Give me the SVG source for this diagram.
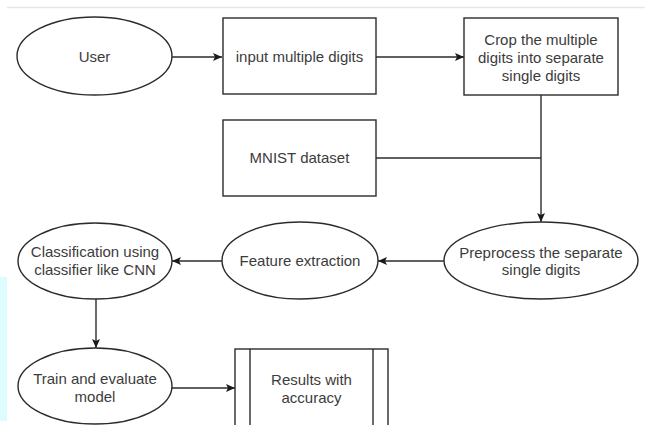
<svg xmlns="http://www.w3.org/2000/svg" width="645" height="425" viewBox="0 0 645 425">
  <style>
    .shape { fill: #ffffff; stroke: #2b2b2b; stroke-width: 1.4; }
    .edge { fill: none; stroke: #2b2b2b; stroke-width: 1.4; }
    .label { font-family: "Liberation Sans", Arial, sans-serif; font-size: 15px; fill: #3c3c3c; text-anchor: middle; }
  </style>
  <defs>
    <marker id="arrow" viewBox="0 0 9 8" refX="9" refY="4" markerWidth="9" markerHeight="8" markerUnits="userSpaceOnUse" orient="auto">
      <path d="M0,0 L9,4 L0,8 L2,4 z" fill="#1a1a1a"/>
    </marker>
  </defs>
  <rect x="0" y="0" width="645" height="425" fill="#ffffff"/>
  <line x1="7" y1="7.5" x2="645" y2="7.5" stroke="#e6e6e6" stroke-width="1.5"/>
  <rect x="0" y="277" width="7" height="144" fill="#dcfcfe"/>

  <g id="connectors">
    <line class="edge" x1="172" y1="57" x2="222" y2="57" marker-end="url(#arrow)"/>
    <line class="edge" x1="376" y1="57" x2="464" y2="57" marker-end="url(#arrow)"/>
    <line class="edge" x1="541" y1="95" x2="541" y2="222" marker-end="url(#arrow)"/>
    <line class="edge" x1="376" y1="158" x2="541" y2="158"/>
    <line class="edge" x1="444" y1="261" x2="378" y2="261" marker-end="url(#arrow)"/>
    <line class="edge" x1="222" y1="261" x2="172" y2="261" marker-end="url(#arrow)"/>
    <line class="edge" x1="96" y1="299" x2="96" y2="348" marker-end="url(#arrow)"/>
    <line class="edge" x1="172" y1="388" x2="235" y2="388" marker-end="url(#arrow)"/>
  </g>

  <g id="user">
    <ellipse class="shape" cx="94.5" cy="56" rx="77.5" ry="39"/>
    <text class="label" x="94.5" y="62">User</text>
  </g>
  <g id="input">
    <rect class="shape" x="223" y="18" width="153" height="76"/>
    <text class="label" x="299.5" y="62">input multiple digits</text>
  </g>
  <g id="crop">
    <rect class="shape" x="464" y="18" width="154" height="77"/>
    <text class="label" x="541" y="44.5">Crop the multiple</text>
    <text class="label" x="541" y="62.5">digits into separate</text>
    <text class="label" x="541" y="80.5">single digits</text>
  </g>
  <g id="mnist">
    <rect class="shape" x="223" y="120" width="153" height="76"/>
    <text class="label" x="299.5" y="163">MNIST dataset</text>
  </g>
  <g id="preprocess">
    <ellipse class="shape" cx="541" cy="260.5" rx="97" ry="38.5"/>
    <text class="label" x="541" y="257.5">Preprocess the separate</text>
    <text class="label" x="541" y="275">single digits</text>
  </g>
  <g id="feature">
    <ellipse class="shape" cx="300" cy="260.5" rx="78" ry="38.5"/>
    <text class="label" x="300" y="266">Feature extraction</text>
  </g>
  <g id="classification">
    <ellipse class="shape" cx="95" cy="261" rx="77" ry="38"/>
    <text class="label" x="95" y="257">Classification using</text>
    <text class="label" x="95" y="275">classifier like CNN</text>
  </g>
  <g id="train">
    <ellipse class="shape" cx="95" cy="386" rx="77" ry="38"/>
    <text class="label" x="95" y="384">Train and evaluate</text>
    <text class="label" x="95" y="402">model</text>
  </g>
  <g id="results">
    <rect class="shape" x="235" y="349" width="153" height="82"/>
    <line class="edge" x1="250" y1="349" x2="250" y2="431"/>
    <line class="edge" x1="373" y1="349" x2="373" y2="431"/>
    <text class="label" x="311.5" y="385">Results with</text>
    <text class="label" x="311.5" y="403">accuracy</text>
  </g>
</svg>
